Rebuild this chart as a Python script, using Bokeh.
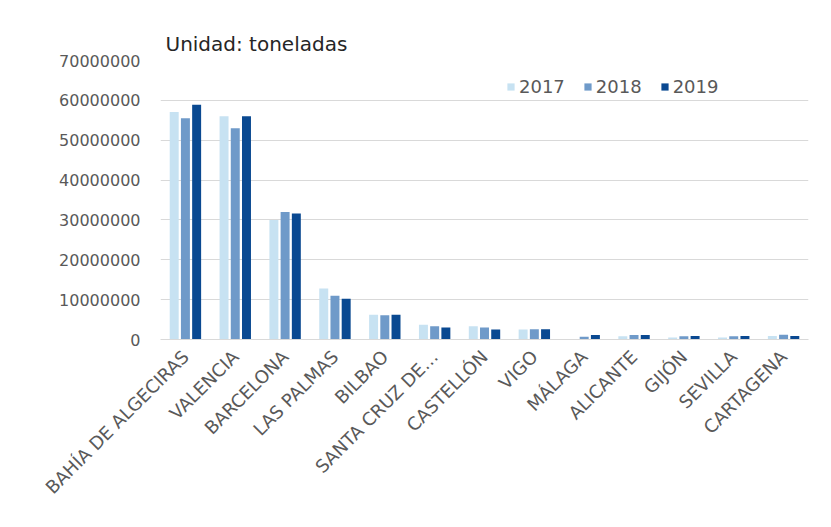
from bokeh.plotting import figure
from bokeh.models import ColumnDataSource, FactorRange, Legend, LegendItem, Range1d, FixedTicker
from bokeh.transform import dodge
from bokeh.embed import file_html
from bokeh.resources import INLINE
import math

ports = ["BAHÍA DE ALGECIRAS", "VALENCIA", "BARCELONA", "LAS PALMAS", "BILBAO",
         "SANTA CRUZ DE…", "CASTELLÓN", "VIGO", "MÁLAGA", "ALICANTE", "GIJÓN",
         "SEVILLA", "CARTAGENA"]
y2017 = [57100000, 56000000, 30000000, 12800000, 6200000, 3700000, 3300000, 2500000,
         150000, 800000, 500000, 500000, 900000]
y2018 = [55500000, 53000000, 32000000, 11000000, 6100000, 3300000, 3000000, 2600000,
         700000, 1100000, 800000, 800000, 1200000]
y2019 = [58900000, 56000000, 31600000, 10200000, 6200000, 3000000, 2500000, 2600000,
         1100000, 1100000, 900000, 900000, 900000]
years = ["2017", "2018", "2019"]
colors = ["#C7E2F2", "#6F9AC9", "#0A4991"]
yticks = [0, 10000000, 20000000, 30000000, 40000000, 50000000, 60000000, 70000000]

FONT = "DejaVu Sans"

src = ColumnDataSource(dict(port=ports, y2017=y2017, y2018=y2018, y2019=y2019))

p = figure(x_range=FactorRange(*ports), y_range=Range1d(0, 70000000),
           width=823, height=519, output_backend="svg", toolbar_location=None,
           min_border_left=160, min_border_right=15, min_border_top=60,
           min_border_bottom=180)
p.title.text = "Unidad: toneladas"
p.title.text_font = FONT
p.title.text_font_size = "20px"
p.title.text_font_style = "normal"
p.title.text_color = "#262626"
p.title.offset = 5
p.title.standoff = 10

renderers = []
for i, (yr, col) in enumerate(zip(years, colors)):
    r = p.vbar(x=dodge("port", (i - 1) * 0.225, range=p.x_range), top="y" + yr,
               width=0.18, source=src, fill_color=col, line_color=None)
    renderers.append(r)

legend = Legend(items=[LegendItem(label=yr, renderers=[r]) for yr, r in zip(years, renderers)],
                orientation="horizontal", location=(346, 242))
legend.label_text_font = FONT
legend.label_text_font_size = "18px"
legend.label_text_color = "#595959"
legend.glyph_width = 9
legend.glyph_height = 9
legend.spacing = 18
legend.label_standoff = 4
legend.border_line_color = None
legend.background_fill_alpha = 0
legend.margin = 0
legend.padding = 0
p.add_layout(legend)

p.xgrid.grid_line_color = None
p.ygrid.grid_line_color = "#D9D9D9"
p.ygrid.grid_line_width = 1
p.yaxis.ticker = FixedTicker(ticks=yticks)
p.yaxis.formatter.use_scientific = False
p.yaxis.axis_line_color = None
p.yaxis.major_tick_line_color = None
p.yaxis.minor_tick_line_color = None
p.yaxis.major_label_text_font = FONT
p.yaxis.major_label_text_font_size = "16px"
p.yaxis.major_label_text_color = "#595959"
p.yaxis.major_label_standoff = 14

p.xaxis.axis_line_color = "#D9D9D9"
p.xaxis.major_tick_line_color = None
p.xaxis.minor_tick_line_color = None
p.xaxis.major_label_orientation = math.pi / 4
p.xaxis.major_label_text_font = FONT
p.xaxis.major_label_text_font_size = "18px"
p.xaxis.major_label_text_color = "#595959"
p.xaxis.major_label_standoff = 8
p.x_range.range_padding = 0
p.outline_line_color = None

open("out.html", "w").write(file_html(p, INLINE))
